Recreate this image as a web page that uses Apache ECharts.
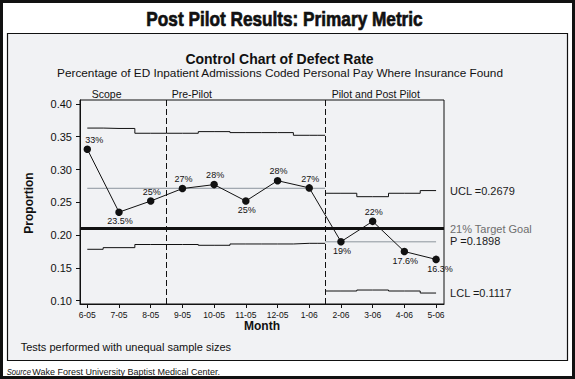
<!DOCTYPE html>
<html><head><meta charset="utf-8">
<script src="https://cdn.jsdelivr.net/npm/echarts@6/dist/echarts.min.js"></script>
<style>html,body{margin:0;padding:0;background:#fff}#c{width:575px;height:379px}</style>
</head><body><div id="c"></div>
<script>
// ---- data ----
const months = ['6-05','7-05','8-05','9-05','10-05','11-05','12-05','1-06','2-06','3-06','4-06','5-06'];
const proportion = [0.331, 0.235, 0.252, 0.271, 0.277, 0.252, 0.283, 0.272, 0.190, 0.221, 0.175, 0.163];
const pointLabels = ['33%','23.5%','25%','27%','28%','25%','28%','27%','19%','22%','17.6%','16.3%'];
const ucl = [0.3632, 0.3626, 0.3553, 0.3553, 0.3578, 0.3563, 0.3563, 0.3522, 0.2638, 0.2586, 0.2638, 0.2679];
const lcl = [0.1784, 0.1809, 0.1857, 0.1857, 0.1845, 0.1865, 0.1865, 0.1875, 0.1148, 0.1163, 0.1148, 0.1117];
const centerStage1 = 0.2714;
const centerStage2 = 0.1898;
const targetGoal = 0.21;
const phaseBounds = [2.5, 7.5];
const phaseNames = ['Scope', 'Pre-Pilot', 'Pilot and Post Pilot'];
const yTicks = [0.10, 0.15, 0.20, 0.25, 0.30, 0.35, 0.40];
const stage2First = 8;

// ---- styling / build ----
const FF = '"Liberation Sans", Arial, Helvetica, sans-serif';
const INK = '#111';
const labelPos = ['top','bottom','top','top','top','bottom','top','top','bottom','top','bottom','bottom'];
const labelOff = months.map((m,i)=> i===0 ? [7,0] : (i===11 ? [4,0] : [1,0]));
const idx = months.map((m,i)=>i);
const s1 = idx.filter(i=>i<stage2First), s2 = idx.filter(i=>i>=stage2First);
const b = phaseBounds[1];
const last = idx[idx.length-1];

const ucl1 = s1.map(i=>[i,ucl[i]]).concat([[b, ucl[s1[s1.length-1]]]]);
const lcl1 = s1.map(i=>[i,lcl[i]]).concat([[b, lcl[s1[s1.length-1]]]]);
const ucl2 = [[b, ucl[s2[0]]]].concat(s2.map(i=>[i,ucl[i]]));
const lcl2 = [[b, lcl[s2[0]]]].concat(s2.map(i=>[i,lcl[i]]));
const ctr1 = [[0, centerStage1],[b, centerStage1]];
const ctr2 = [[b, centerStage2],[last, centerStage2]];

function limitSeries(data, endText, color, step, off){
  const s = {type:'line', data, step: step ? 'middle' : false, symbol:'none', silent:true, z:3,
    lineStyle:{color: color, width:1}};
  if (endText) s.endLabel = {show:true, formatter:endText, distance:14, color:'#1a1a1a', fontSize:11, fontFamily:FF, offset: off||[0,0]};
  return s;
}

const chart = echarts.init(document.getElementById('c'), null, {renderer:'svg'});
const T = (text, x, y, font, opts) => Object.assign({type:'text', x, y,
  style: Object.assign({text, font, fill: INK, align:'left', verticalAlign:'middle', textAlign:'left', textVerticalAlign:'middle'}, (opts&&opts.style)||{})},
  opts && opts.el || {});

chart.setOption({
  animation:false,
  backgroundColor:'#fff',
  textStyle:{fontFamily:FF},
  grid:{left:80, right:131, top:100, bottom:75, show:true, borderColor:INK, borderWidth:1, backgroundColor:'transparent'},
  xAxis:{type:'value', min:-0.23, max:11.25,
    axisLine:{show:true, onZero:false, lineStyle:{color:INK, width:1}},
    axisTick:{show:true, customValues: idx, length:4, lineStyle:{color:INK}},
    axisLabel:{customValues: idx, formatter: v => months[Math.round(v)], fontSize:8.5, color:INK, margin:6,
      fontFamily:'"Liberation Sans Narrow", "Liberation Sans", Arial, sans-serif'},
    splitLine:{show:false}},
  yAxis:{type:'value', min:0.095, max:0.406,
    axisLine:{show:true, onZero:false, lineStyle:{color:INK, width:1}},
    axisTick:{show:true, customValues: yTicks, length:4, lineStyle:{color:INK}},
    axisLabel:{customValues: yTicks, formatter: v => v.toFixed(2), fontSize:11, color:INK, margin:8},
    splitLine:{show:false}},
  series:[
    Object.assign(limitSeries(ctr1, null, '#8c959d', false), {z:2}),
    Object.assign(limitSeries(ctr2, 'P =0.1898', '#8c959d', false, [0,-1]), {z:2}),
    limitSeries(ucl1, null, INK, true),
    limitSeries(lcl1, null, INK, true),
    limitSeries(ucl2, 'UCL =0.2679', INK, true),
    limitSeries(lcl2, 'LCL =0.1117', INK, true),
    {type:'line', name:'Proportion', z:5,
      data: proportion.map((v,i)=>({value:[i,v], label:{position:labelPos[i], offset:labelOff[i]}})),
      symbol:'circle', symbolSize:7.5, itemStyle:{color:INK}, lineStyle:{color:INK, width:1},
      label:{show:true, formatter: p => pointLabels[p.dataIndex], fontSize:9, color:INK, distance:1},
      markLine:{silent:true, symbol:['none','none'], label:{show:false}, z:4,
        data:[
          {xAxis: phaseBounds[0], lineStyle:{type:[6,3], color:INK, width:1}},
          {xAxis: phaseBounds[1], lineStyle:{type:[6,3], color:INK, width:1}},
          {yAxis: targetGoal, lineStyle:{type:'solid', color:INK, width:3},
            label:{show:true, position:'end', formatter:'21% Target Goal', color:'#6e6e6e', fontSize:11, distance:6}}
        ]}
    }
  ],
  graphic:{elements:[
    {type:'rect', z:-20, shape:{x:1.5, y:1.5, width:572, height:376}, style:{fill:'#fff', stroke:'#111', lineWidth:3}},
    {type:'rect', z:-10, shape:{x:7.5, y:33.5, width:560, height:327}, style:{fill:'#f1f2f4', stroke:'#111', lineWidth:1.2}},
    T('Post Pilot Results: Primary Metric', 284.5, 18.5, 'bold 21px ' + FF, {el:{scaleX:0.82}, style:{align:'center', textAlign:'center', stroke:'#111', lineWidth:0.7}}),
    T('Control Chart of Defect Rate', 279.5, 58.8, 'bold 14px ' + FF, {style:{align:'center', textAlign:'center'}}),
    T('Percentage of ED Inpatient Admissions Coded Personal Pay Where Insurance Found', 280, 73, '11.8px ' + FF, {style:{align:'center', textAlign:'center'}}),
    T(phaseNames[0], 91.7, 93.5, '10.5px ' + FF),
    T(phaseNames[1], 171.7, 93.5, '10.5px ' + FF),
    T(phaseNames[2], 331.7, 93.5, '10.5px ' + FF),
    T('Proportion', 29, 203, 'bold 12px ' + FF, {el:{rotation:Math.PI/2}, style:{align:'center', textAlign:'center'}}),
    T('Month', 262, 326.2, 'bold 12px ' + FF, {style:{align:'center', textAlign:'center'}}),
    T('Tests performed with unequal sample sizes', 20.7, 346.5, '11px ' + FF),
    T('Source', 6.7, 371.5, 'italic 9px ' + FF, {el:{scaleX:0.85}}),
    T('Wake Forest University Baptist Medical Center.', 32.3, 371.5, '9px ' + FF)
  ]}
});
</script></body></html>
